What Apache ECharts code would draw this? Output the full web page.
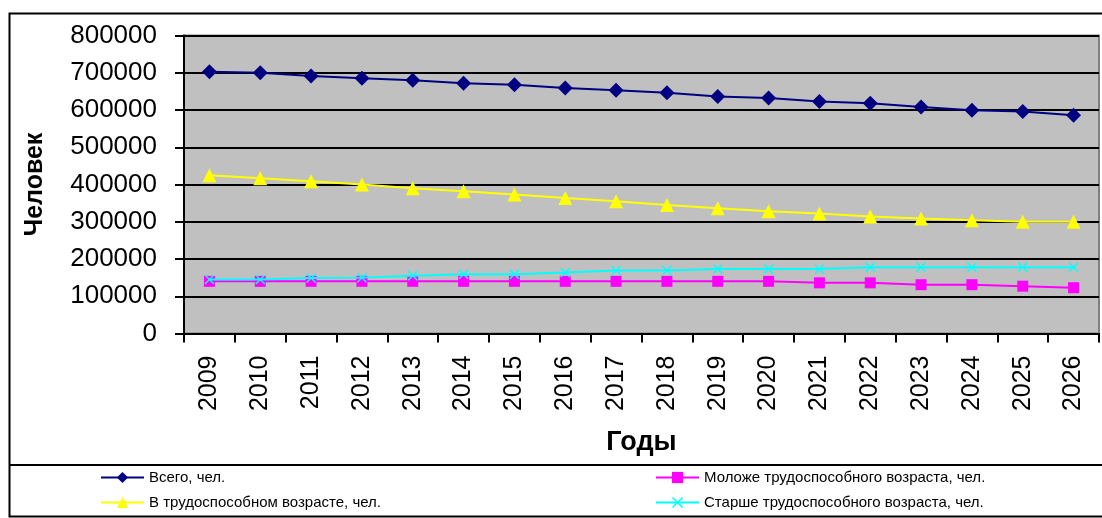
<!DOCTYPE html>
<html>
<head>
<meta charset="utf-8">
<script src="https://cdn.jsdelivr.net/npm/echarts@6/dist/echarts.min.js"></script>
<style>
html,body{margin:0;padding:0;background:#fff;}
#chart{width:1102px;height:518px;}
</style>
</head>
<body>
<div id="chart"></div>
<script>
var years = ['2009','2010','2011','2012','2013','2014','2015','2016','2017','2018','2019','2020','2021','2022','2023','2024','2025','2026'];
var total = [703000,700000,691000,685000,680000,672000,668000,659000,653000,646000,636000,632000,623000,618000,608000,599000,596000,586000];
var young = [140000,140000,140000,140000,140000,140000,140000,140000,140000,140000,140000,140000,136000,136000,131000,131000,127000,123000];
var working = [425000,417000,409000,400000,390000,382000,373000,364000,355000,345000,336000,328000,322000,314000,309000,304000,300000,300000];
var elder = [145000,145000,149000,150000,155000,159000,159000,164000,169000,169000,173000,173000,173000,178000,178000,178000,178000,178000];
var seriesNames = ['Всего, чел.','Моложе трудоспособного возраста, чел.','В трудоспособном возрасте, чел.','Старше трудоспособного возраста, чел.'];

var FONT = "'Liberation Sans', Arial, sans-serif";
var crossPath = 'path://M0,1L1,0L5,4L9,0L10,1L6,5L10,9L9,10L5,6L1,10L0,9L4,5Z';

var chart = echarts.init(document.getElementById('chart'), null, {renderer:'canvas'});
var legendText = {fontSize:15,color:'#000',fontFamily:FONT,lineHeight:14};
var option = {
  animation:false,
  backgroundColor:'#ffffff',
  textStyle:{fontFamily:FONT},
  graphic:[
    {type:'rect', shape:{x:9.5,y:13.5,width:1100,height:503}, style:{fill:'none',stroke:'#000',lineWidth:2}, z:-1},
    {type:'line', shape:{x1:9,y1:465,x2:1102,y2:465}, style:{stroke:'#000',lineWidth:2}, z:-1}
  ],
  grid:{left:184,top:35.5,right:3,bottom:184.5,show:true,backgroundColor:'#C0C0C0',borderColor:'#808080',borderWidth:2,containLabel:false},
  legend:[
    {data:[seriesNames[0],seriesNames[2]],orient:'vertical',left:100,top:470,padding:0,itemWidth:43,itemHeight:14,itemGap:10,textStyle:legendText},
    {data:[seriesNames[1],seriesNames[3]],orient:'vertical',left:655,top:470,padding:0,itemWidth:43,itemHeight:14,itemGap:10,textStyle:legendText}
  ],
  xAxis:{
    type:'category',data:years,boundaryGap:true,
    name:'Годы',nameLocation:'middle',nameGap:96,
    nameTextStyle:{fontSize:27,fontWeight:'bold',color:'#000',fontFamily:FONT},
    axisLine:{lineStyle:{color:'#000',width:2}},
    axisTick:{show:true,length:9,lineStyle:{color:'#000',width:2},alignWithLabel:false},
    axisLabel:{rotate:90,fontSize:25,color:'#000',margin:22,fontFamily:FONT,interval:0},
    splitLine:{show:false}
  },
  yAxis:{
    type:'value',min:0,max:800000,interval:100000,
    name:'Человек',nameLocation:'middle',nameGap:136,nameRotate:90,
    nameTextStyle:{fontSize:25,fontWeight:'bold',color:'#000',fontFamily:FONT},
    axisLine:{show:true,lineStyle:{color:'#000',width:2}},
    axisTick:{show:true,length:9,lineStyle:{color:'#000',width:2}},
    axisLabel:{fontSize:26,color:'#000',margin:27,fontFamily:FONT,formatter:function(v){return String(v);}},
    splitLine:{show:true,lineStyle:{color:'#000',width:2}}
  },
  series:[
    {name:seriesNames[0],type:'line',data:total,symbol:'diamond',symbolSize:15,
     lineStyle:{color:'#000080',width:2},itemStyle:{color:'#000080'},z:2},
    {name:seriesNames[1],type:'line',data:young,symbol:'rect',symbolSize:11,
     lineStyle:{color:'#FF00FF',width:2},itemStyle:{color:'#FF00FF'},z:3},
    {name:seriesNames[2],type:'line',data:working,symbol:'triangle',symbolSize:14,
     lineStyle:{color:'#FFFF00',width:2},itemStyle:{color:'#FFFF00'},z:4},
    {name:seriesNames[3],type:'line',data:elder,symbol:crossPath,symbolSize:10,
     lineStyle:{color:'#00FFFF',width:2},itemStyle:{color:'#00FFFF'},z:5}
  ]
};
chart.setOption(option);
</script>
</body>
</html>
